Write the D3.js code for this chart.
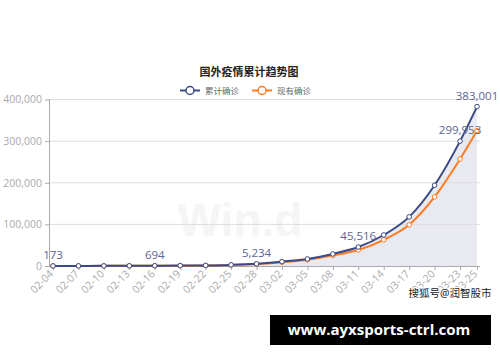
<!DOCTYPE html>
<html>
<head>
<meta charset="utf-8">
<script src="https://cdn.jsdelivr.net/npm/d3@7"></script>
<style>
  html, body { margin: 0; padding: 0; background: #fff; }
  svg { display: block; font-family: "Noto Sans", "Noto Sans CJK SC", sans-serif; }
</style>
</head>
<body>
<svg id="chart" width="500" height="362"></svg>
<script>
(() => {
  // data
  const dates = ['2020-02-04', '2020-02-07', '2020-02-10', '2020-02-13', '2020-02-16', '2020-02-19',
    '2020-02-22', '2020-02-25', '2020-02-28', '2020-03-02', '2020-03-05', '2020-03-08',
    '2020-03-11', '2020-03-14', '2020-03-17', '2020-03-20', '2020-03-23', '2020-03-25'];
  const cumulative = [173, 270, 350, 450, 694, 1000, 1500, 2700, 5234, 10500, 17000, 29000,
    45516, 74500, 118000, 194000, 299953, 383001];
  const current = [150, 240, 310, 380, 580, 800, 1200, 2300, 4600, 9200, 15000, 25500,
    38500, 63000, 99000, 166000, 257000, 325000];
  const yTicks = [0, 100000, 200000, 300000, 400000];
  const seriesNames = ['累计确诊', '现有确诊'];
  const colors = ['#3b4a85', '#ff7b22'];

  const parse = d3.utcParse('%Y-%m-%d');
  const days = dates.map(parse);
  const fmtDay = d3.utcFormat('%m-%d');
  const fmtNum = d3.format(',');

  const svg = d3.select('#chart');
  const plot = { left: 50, right: 480, top: 99.5, bottom: 266 };

  const x = d3.scaleUtc().domain(d3.extent(days)).range([53, 477]);
  const y = d3.scaleLinear().domain([0, 400000]).range([plot.bottom, plot.top]);

  // watermark behind everything
  svg.append('text')
    .attr('x', 240).attr('y', 236)
    .attr('text-anchor', 'middle')
    .attr('font-size', 46).attr('font-weight', 'bold')
    .attr('font-family', 'Arial, "Liberation Sans", sans-serif')
    .attr('fill', '#f5f5f5')
    .text('Win.d');

  const rowsA = days.map((d, i) => ({ d, v: cumulative[i], i }));
  const rowsB = days.map((d, i) => ({ d, v: current[i], i }));

  const area = d3.area()
    .curve(d3.curveMonotoneX)
    .x((r) => x(r.d))
    .y0(y(0))
    .y1((r) => y(r.v));

  svg.append('path')
    .datum(rowsA)
    .attr('d', area)
    .attr('fill', '#e9eaf1');

  // grid lines
  svg.append('g')
    .selectAll('line')
    .data(yTicks.slice(1))
    .join('line')
    .attr('x1', plot.left).attr('x2', plot.right)
    .attr('y1', (v) => y(v)).attr('y2', (v) => y(v))
    .attr('stroke', '#dcdcdc');

  // y axis
  const yAxis = svg.append('g')
    .attr('transform', `translate(${plot.left},0)`)
    .call(d3.axisLeft(y).tickValues(yTicks).tickFormat(fmtNum).tickSize(5).tickPadding(3));
  yAxis.select('.domain').attr('stroke', '#aaa').attr('d', `M-0.5,${plot.top}V${plot.bottom}`);
  yAxis.selectAll('.tick line').attr('stroke', '#aaa');
  yAxis.selectAll('.tick text').attr('fill', '#aaa').attr('font-size', 10.5)
    .attr('font-family', '"Open Sans", sans-serif');

  // x axis
  const xAxis = svg.append('g')
    .attr('transform', `translate(0,${plot.bottom})`)
    .call(d3.axisBottom(x).tickValues(days).tickFormat(fmtDay).tickSize(4).tickSizeOuter(0));
  xAxis.select('.domain').attr('stroke', '#aaa').attr('d', `M${plot.left},0.5H${plot.right}`);
  xAxis.selectAll('.tick line').attr('stroke', '#aaa');
  xAxis.selectAll('.tick text')
    .attr('fill', '#aaa').attr('font-size', 10.5)
    .attr('font-family', '"Open Sans", sans-serif')
    .attr('text-anchor', 'end')
    .attr('dy', '0.35em')
    .attr('transform', 'translate(-2,6) rotate(-45)')
    .attr('y', 0).attr('x', 0);

  const line = d3.line()
    .curve(d3.curveMonotoneX)
    .x((r) => x(r.d))
    .y((r) => y(r.v));

  [rowsB, rowsA].forEach((rows) => {
    const k = rows === rowsA ? 0 : 1;
    svg.append('path')
      .datum(rows)
      .attr('d', line)
      .attr('fill', 'none')
      .attr('stroke', colors[k])
      .attr('stroke-width', 2);
    svg.append('g')
      .selectAll('circle')
      .data(rows)
      .join('circle')
      .attr('cx', (r) => x(r.d))
      .attr('cy', (r) => y(r.v))
      .attr('r', 2.3)
      .attr('fill', '#fff')
      .attr('stroke', colors[k])
      .attr('stroke-width', 1);
  });

  // value labels on the cumulative series: every 4th point plus the last
  const labelled = rowsA.filter((r) => r.i % 4 === 0 || r.i === rowsA.length - 1);
  svg.append('g')
    .selectAll('text')
    .data(labelled)
    .join('text')
    .attr('x', (r) => x(r.d))
    .attr('y', (r) => y(r.v) - 7)
    .attr('text-anchor', 'middle')
    .attr('font-size', 11.5)
    .attr('font-family', '"Open Sans", sans-serif')
    .attr('fill', '#5b6597')
    .text((r) => fmtNum(r.v));

  // title
  svg.append('text')
    .attr('x', 249).attr('y', 76)
    .attr('text-anchor', 'middle')
    .attr('font-size', 11).attr('font-weight', 'bold')
    .attr('fill', '#222')
    .text('国外疫情累计趋势图');

  // legend
  const legend = svg.append('g').attr('transform', 'translate(180,90.5)');
  seriesNames.forEach((name, k) => {
    const g = legend.append('g').attr('transform', `translate(${k * 72},0)`);
    g.append('line').attr('x1', 0).attr('x2', 20).attr('stroke', colors[k]).attr('stroke-width', 2);
    g.append('circle').attr('cx', 10).attr('r', 4).attr('fill', '#fff')
      .attr('stroke', colors[k]).attr('stroke-width', 1.5);
    g.append('text').attr('x', 25).attr('y', 3)
      .attr('font-size', 8.5).attr('fill', '#666').text(name);
  });

  // source watermark
  svg.append('text')
    .attr('x', 450).attr('y', 297)
    .attr('text-anchor', 'middle')
    .attr('font-size', 10.5)
    .attr('fill', '#222')
    .attr('stroke', '#fff').attr('stroke-width', 2).attr('paint-order', 'stroke')
    .text('搜狐号@润智股市');

  // site banner
  svg.append('rect')
    .attr('x', 270).attr('y', 315).attr('width', 221).attr('height', 30)
    .attr('fill', '#000');
  svg.append('text')
    .attr('x', 379).attr('y', 335)
    .attr('text-anchor', 'middle')
    .attr('font-size', 15).attr('font-weight', 'bold')
    .attr('font-family', '"Open Sans", sans-serif')
    .attr('fill', '#fff')
    .text('www.ayxsports-ctrl.com');
})();
</script>
</body>
</html>
